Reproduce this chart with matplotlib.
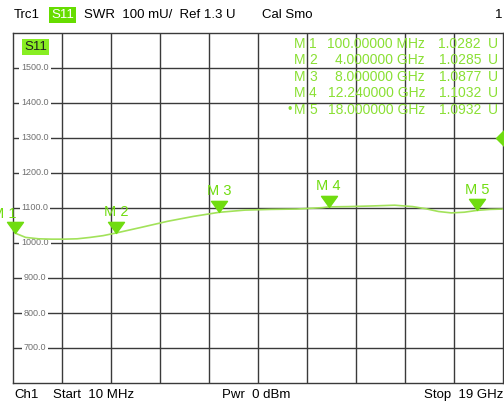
import matplotlib
matplotlib.use("Agg")
import matplotlib.pyplot as plt
from matplotlib.path import Path
from matplotlib.markers import MarkerStyle
import matplotlib.transforms as mtransforms

plt.rcParams['font.family'] = ['Liberation Sans', 'DejaVu Sans']

# ---- data ----
freq_ghz = [0.01, 0.1, 0.5, 1.0, 1.5, 2.0, 2.5, 3.0, 3.5, 4.0, 5.0, 6.0, 7.0, 8.0,
            9.0, 10.0, 11.0, 12.0, 12.24, 13.0, 14.0, 14.8, 15.5, 16.0, 16.5, 17.0,
            17.5, 18.0, 18.5, 19.0]
swr_mu = [1045, 1028, 1016, 1012, 1011, 1011, 1012, 1016, 1021, 1028.5, 1045, 1062,
          1076, 1087.7, 1094, 1096, 1097, 1101, 1103.2, 1104, 1106, 1108, 1104, 1098,
          1090, 1086, 1088, 1093.2, 1096, 1097]

marker_names = ["M 1", "M 2", "M 3", "M 4", "M 5"]
marker_freq_ghz = [0.1, 4.0, 8.0, 12.24, 18.0]
marker_vals = [1028.2, 1028.5, 1087.7, 1103.2, 1093.2]
marker_freq_text = ["100.00000 MHz", "4.000000 GHz", "8.000000 GHz", "12.240000 GHz", "18.000000 GHz"]
marker_val_text = ["1.0282", "1.0285", "1.0877", "1.1032", "1.0932"]

ytick_vals = [700, 800, 900, 1000, 1100, 1200, 1300, 1400, 1500]
ref_level = 1300

W, H = 504, 403
fig = plt.figure(figsize=(W / 100, H / 100), dpi=100)
L, R, T, B = 13, 503, 33, 383
ax = fig.add_axes([L / W, 1 - B / H, (R - L) / W, (B - T) / H])
ax.set_xlim(0.01, 19.0)
ax.set_ylim(600, 1600)

gridc = '#3a3a3a'
for i in range(1, 10):
    ax.axvline(0.01 + i * (19.0 - 0.01) / 10, color=gridc, lw=1.0, zorder=1)
for v in ytick_vals:
    ax.axhline(v, color=gridc, lw=1.0, zorder=1)
for s in ax.spines.values():
    s.set_color(gridc)
    s.set_linewidth(1.0)
ax.set_xticks([])
ax.set_yticks([])

# y labels inside
ytrans = mtransforms.blended_transform_factory(ax.transAxes, ax.transData)
for v in ytick_vals:
    ax.text((35 - L) / (R - L), v, f"{v:.1f}", transform=ytrans, ha='center', va='center',
            fontsize=6.5, color='#707070', zorder=3,
            bbox=dict(boxstyle='square,pad=0.2', fc='white', ec='none'))

# trace
green_tr = '#a2e25a'
ax.plot(freq_ghz, swr_mu, color=green_tr, lw=1.2, zorder=4)

# markers
green_m = '#70dc10'
tri = MarkerStyle(Path([(-0.72, 1.0), (0.72, 1.0), (0.0, 0.0), (-0.72, 1.0)],
                       [Path.MOVETO, Path.LINETO, Path.LINETO, Path.CLOSEPOLY]))
ax.plot(marker_freq_ghz, marker_vals, linestyle='none', marker=tri, markersize=16,
        color=green_m, zorder=5, clip_on=False)
for k, (n, f, v) in enumerate(zip(marker_names, marker_freq_ghz, marker_vals)):
    if k == 0:
        off, ha = (1, 14), 'right'
    else:
        off, ha = (0, 15), 'center'
    ax.annotate(n, (f, v), xytext=off, textcoords='offset points', ha=ha,
                va='center', fontsize=10.5, color=green_m, zorder=6, annotation_clip=False)

# reference level triangle on right edge
rtri = MarkerStyle(Path([(0, 0), (1.0, -1.0), (1.0, 1.0), (0, 0)],
                        [Path.MOVETO, Path.LINETO, Path.LINETO, Path.CLOSEPOLY]))
ax.plot([(496 - L) / (R - L)], [ref_level], transform=ytrans, marker=rtri, markersize=14,
        color=green_m, linestyle='none', clip_on=False, zorder=6)

# marker table
green_t = '#8ae034'
rows_y = [44, 60, 77, 93, 110]
for i, y in enumerate(rows_y):
    fy = 1 - y / H
    if i == 4:
        fig.text(287 / W, fy, "•", ha='left', va='center', fontsize=9, color=green_t)
    fig.text(294 / W, fy, "M", ha='left', va='center', fontsize=10, color=green_t)
    fig.text(309 / W, fy, str(i + 1), ha='left', va='center', fontsize=10, color=green_t)
    fig.text(425 / W, fy, marker_freq_text[i], ha='right', va='center', fontsize=10, color=green_t)
    fig.text(481 / W, fy, marker_val_text[i], ha='right', va='center', fontsize=10, color=green_t)
    fig.text(488 / W, fy, "U", ha='left', va='center', fontsize=10, color=green_t)

# header
hy = 1 - 15 / H
fig.text(14 / W, hy, "Trc1", ha='left', va='center', fontsize=9.5, color='black')
fig.text(51 / W, hy, "S11", ha='left', va='center', fontsize=9.5, color='white',
         bbox=dict(boxstyle='square,pad=0.15', fc='#66dd00', ec='none'))
fig.text(84 / W, hy, "SWR  100 mU/  Ref 1.3 U", ha='left', va='center', fontsize=9.5, color='black')
fig.text(262 / W, hy, "Cal Smo", ha='left', va='center', fontsize=9.5, color='black')
fig.text(502 / W, hy, "1", ha='right', va='center', fontsize=9.5, color='black')

# S11 box inside plot
fig.text(24 / W, 1 - 47 / H, "S11", ha='left', va='center', fontsize=9.5, color='#202020',
         bbox=dict(boxstyle='square,pad=0.15', fc='#88ee22', ec='none'), zorder=10)

# footer
fy = 1 - 395 / H
fig.text(14 / W, fy, "Ch1", ha='left', va='center', fontsize=9.5, color='black')
fig.text(53 / W, fy, "Start  10 MHz", ha='left', va='center', fontsize=9.5, color='black')
fig.text(222 / W, fy, "Pwr  0 dBm", ha='left', va='center', fontsize=9.5, color='black')
fig.text(503 / W, fy, "Stop  19 GHz", ha='right', va='center', fontsize=9.5, color='black')

fig.savefig("out.png", dpi=100, facecolor='white')
